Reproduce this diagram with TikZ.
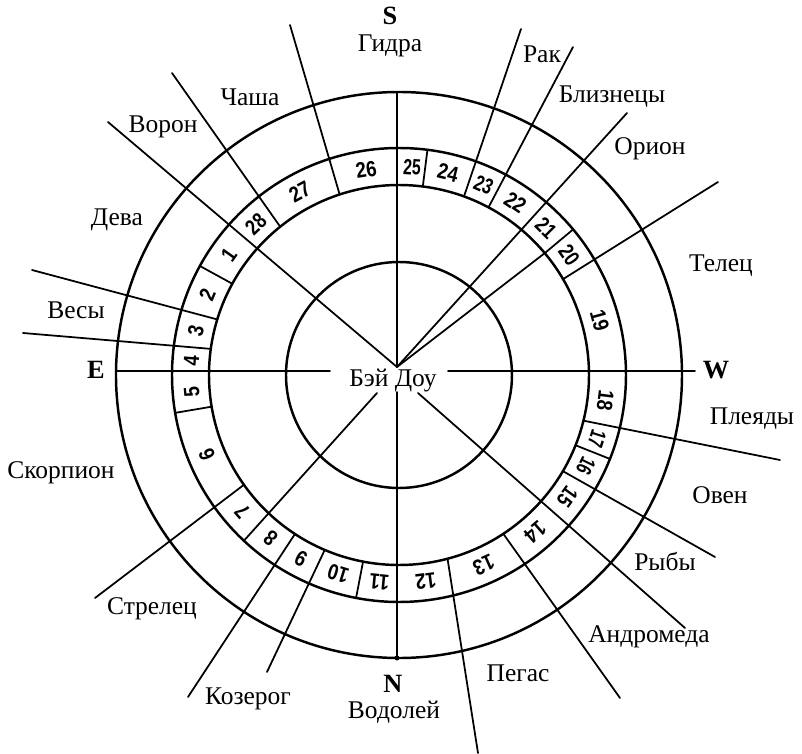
\documentclass[tikz,border=0pt]{standalone}
\usepackage{fontspec}
\setmainfont{Liberation Serif}
\newfontfamily\ringfont{Liberation Sans}
\usepackage{tikz}

\begin{document}
\begin{tikzpicture}[x=0.02cm,y=0.02cm,line cap=round]
  \tikzstyle{ring}=[line width=1.4pt]
  \tikzstyle{ray}=[line width=1pt]
  \tikzstyle{star}=[font=\fontsize{14.5}{16}\selectfont, inner sep=0pt]
  \tikzstyle{pole}=[font=\fontsize{15}{16}\selectfont\bfseries, inner sep=0pt]
  \tikzstyle{lodge}=[font=\fontsize{12.5}{14}\selectfont\ringfont\bfseries, inner sep=0pt]
  \fill[white] (-399,-379) rectangle (403,375);
  \useasboundingbox (-399,-379) rectangle (403,375);
  % circles
  \draw[ring] (0,0) circle (113);
  \draw[ring] (0,0) circle (190);
  \draw[ring] (0,0) circle (227);
  \draw[ring] (0,0) circle (283);
  % axes
  \coordinate (hub) at (-2,8);
  \draw[ray] (-283,4) -- (-69,4);
  \draw[ray] (49,4) -- (296,4);
  \draw[ray] (-2,283) -- (hub);
  \draw[ray] (-2,-17) -- (-2,-283);
  \fill (-2,-283) circle (2.5);
  \draw[ray] (hub) -- (-291,253);
  \draw[ray] (hub) -- (228,262);
  \draw[ray] (hub) -- (39.9:190);
  \draw[ray] (-22,-18) -- (-133.1:227);
  \draw[ray] (19,-18) -- (286,-253);
  % short ticks in the ring
  \foreach \a in {82.8,39.9,-21.7,-100.9,189.6,151.3}
    \draw[ray] (\a:190) -- (\a:227);
  % long rays between constellations
  \foreach \a/\x/\y in {108.2/-109/350, 128.7/-227/302, 70/122/346,
      61.9/174/328, 30.3/319/193, -13.9/381/-85, -30.4/316/-182,
      -56.7/221/-323, -75.2/79/-378, -113/-132/-297, -123.2/-211/-322,
      -144.7/-304/-223, 172.1/-376/42, 163/-367/105}
    \draw[ray] (\a:190) -- (\x,\y);
  % lunar lodges (number / angle / width)
  \foreach \n/\a/\w in {1/144.8/.85, 2/157.2/.85, 3/167.6/.85, 4/176/.85,
      5/184.8/.85, 6/202.5/.85, 7/221.1/.85, 8/231.9/.85, 9/241.9/.85,
      10/253/.85, 11/264.6/.85, 12/277.4/.85, 13/294/.85, 14/310.9/.85,
      15/324/.8, 16/334/.7, 17/342.2/.7, 18/353/.85, 19/15.2/.85,
      20/35.1/.8, 21/45/.8, 22/56/.85, 23/66/.75, 24/76.4/.85, 25/86.4/.72,
      26/99.1/.85, 27/118.5/.85, 28/133.5/.8}
    \node[lodge, rotate=\a-90] (m\n) at (\a:208) {\scalebox{\w}[1]{\n}};
  % centre
  \node[star] (beidou) at (-6,-6) {Бэй Доу};
  % cardinal points
  \node[pole] (south) at (-9,359) {S};
  \node[pole] (north) at (-6,-309) {N};
  \node[pole] (east) at (-303,5) {E};
  \node[pole] (west) at (317,5) {W};
  % constellations
  \node[star] (gidra) at (-9,329) {Гидра};
  \node[star] (rak) at (143,321) {Рак};
  \node[star] (bliznecy) at (213,278) {Близнецы};
  \node[star] (orion) at (251,226) {Орион};
  \node[star] (telec) at (322,109) {Телец};
  \node[star] (plejady) at (353,-44) {Плеяды};
  \node[star] (oven) at (321,-120) {Овен};
  \node[star] (ryby) at (266,-187) {Рыбы};
  \node[star] (andromeda) at (250,-262) {Андромеда};
  \node[star] (pegas) at (119,-298) {Пегас};
  \node[star] (vodolej) at (-5,-337) {Водолей};
  \node[star] (kozerog) at (-151,-324) {Козерог};
  \node[star] (strelec) at (-247,-234) {Стрелец};
  \node[star] (skorpion) at (-338,-98) {Скорпион};
  \node[star] (vesy) at (-323,65) {Весы};
  \node[star] (deva) at (-282,155) {Дева};
  \node[star] (voron) at (-236,248) {Ворон};
  \node[star] (chasha) at (-149,278) {Чаша};
\end{tikzpicture}
\end{document}
